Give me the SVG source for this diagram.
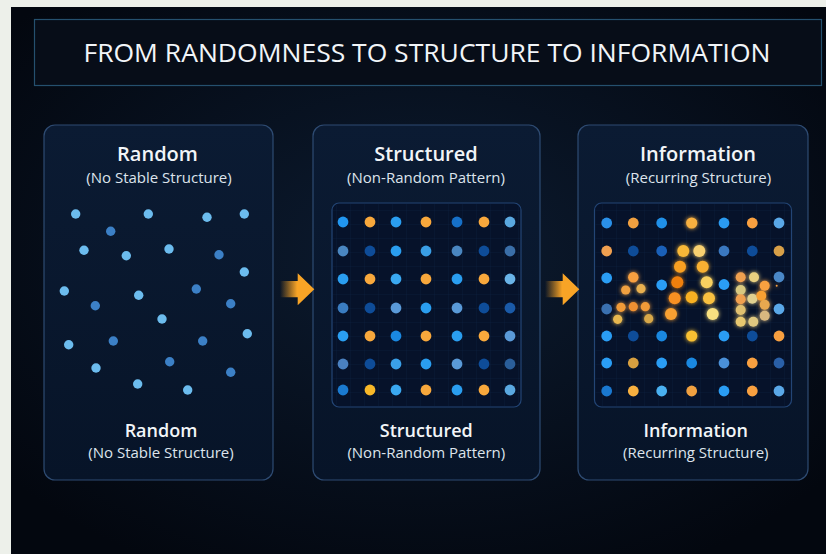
<svg xmlns="http://www.w3.org/2000/svg" width="826" height="554" viewBox="0 0 826 554">
<style>
.t{font-family:"Open Sans","Liberation Sans",sans-serif;fill:#f2f5f8;text-anchor:middle}
.h1{font-size:20px;font-weight:600}
.h2{font-size:18px;font-weight:600}
.sub{font-size:15px;font-weight:400;fill:#dde4ec}
.panel{fill:url(#pg);stroke:#2e4b72;stroke-width:1.2}
.inner{fill:#06122a;stroke:#234575;stroke-width:1.2}
.arrow{fill:url(#ag)}
</style>
<defs>
<radialGradient id="bg" cx="0.5" cy="0.45" r="0.65">
<stop offset="0" stop-color="#0c1b30"/>
<stop offset="1" stop-color="#03070f"/>
</radialGradient>
<linearGradient id="pg" x1="0" y1="0" x2="0" y2="1">
<stop offset="0" stop-color="#0b1b33"/>
<stop offset="1" stop-color="#071428"/>
</linearGradient>
<linearGradient id="ag" x1="0" y1="0" x2="1" y2="0">
<stop offset="0" stop-color="#f8a020" stop-opacity="0"/>
<stop offset="0.5" stop-color="#f8a426" stop-opacity="1"/>
<stop offset="1" stop-color="#f8a426"/>
</linearGradient>
<pattern id="grid" width="14" height="14" patternUnits="userSpaceOnUse">
<path d="M14 0H0V14" fill="none" stroke="#12315a" stroke-width="0.8" opacity="0.35"/>
</pattern>
<filter id="glow" x="-100%" y="-100%" width="300%" height="300%">
<feGaussianBlur stdDeviation="2.2" result="b"/>
<feMerge><feMergeNode in="b"/><feMergeNode in="SourceGraphic"/></feMerge>
</filter>
</defs>
<rect width="826" height="554" fill="#edf0ea"/>
<rect x="11" y="7" width="815" height="547" fill="url(#bg)"/>

<g id="title">
<rect x="34.5" y="19.5" width="787" height="66" fill="#070d18" stroke="#25506e" stroke-width="1.2"/>
<text class="t" x="427" y="61.5" font-size="26" textLength="687" lengthAdjust="spacingAndGlyphs">FROM RANDOMNESS TO STRUCTURE TO INFORMATION</text>
</g>

<g id="panel-random">
<rect class="panel" x="44" y="125" width="229" height="355" rx="11"/>
<text class="t h1" x="157.5" y="161">Random</text>
<text class="t sub" x="159" y="183">(No Stable Structure)</text>
<g fill="#6cbcee">
<circle cx="75.7" cy="214" r="4.7"/><circle cx="148.3" cy="214" r="4.7"/><circle cx="207" cy="217.3" r="4.7"/><circle cx="244.3" cy="214" r="4.7"/>
<circle cx="84" cy="250.3" r="4.7"/><circle cx="126.3" cy="255.7" r="4.7"/><circle cx="169" cy="249" r="4.7"/><circle cx="244.3" cy="272" r="4.7"/>
<circle cx="64.3" cy="291" r="4.7"/><circle cx="138.7" cy="295.3" r="4.7"/><circle cx="162" cy="319" r="4.7"/><circle cx="247.3" cy="333.7" r="4.7"/>
<circle cx="68.7" cy="344.7" r="4.7"/><circle cx="96" cy="368" r="4.7"/><circle cx="137.7" cy="384" r="4.7"/><circle cx="187.7" cy="390" r="4.7"/>
</g>
<g fill="#3c80c6">
<circle cx="110.7" cy="231.3" r="4.7"/><circle cx="219" cy="254.7" r="4.7"/><circle cx="196.3" cy="289" r="4.7"/><circle cx="95.3" cy="305.7" r="4.7"/>
<circle cx="230.7" cy="303.7" r="4.7"/><circle cx="113.3" cy="341" r="4.7"/><circle cx="202.7" cy="341" r="4.7"/><circle cx="169.7" cy="361.7" r="4.7"/>
<circle cx="230.7" cy="372.3" r="4.7"/>
</g>
<text class="t h2" x="161" y="437">Random</text>
<text class="t sub" x="161" y="458">(No Stable Structure)</text>
</g>

<g id="panel-structured">
<rect class="panel" x="313" y="125" width="227" height="355" rx="11"/>
<text class="t h1" x="426" y="161">Structured</text>
<text class="t sub" x="426" y="183">(Non-Random Pattern)</text>
<rect class="inner" x="332" y="203" width="189" height="204" rx="7"/>
<rect x="333" y="204" width="187" height="202" rx="6" fill="url(#grid)"/>
<g>
<circle cx="343" cy="222" r="5.4" fill="#2196f0"/><circle cx="370" cy="222" r="5.4" fill="#f8a83c"/><circle cx="396" cy="222" r="5.4" fill="#2a9ef0"/><circle cx="426" cy="222" r="5.4" fill="#f8a83c"/><circle cx="457" cy="222" r="5.4" fill="#1670c8"/><circle cx="484" cy="222" r="5.4" fill="#f8a83c"/><circle cx="510" cy="222" r="5.4" fill="#5aa8e0"/>
<circle cx="343" cy="251" r="5.4" fill="#4a86c0"/><circle cx="370" cy="251" r="5.4" fill="#0e4c98"/><circle cx="396" cy="251" r="5.4" fill="#2a9ef0"/><circle cx="426" cy="251" r="5.4" fill="#3a9fe6"/><circle cx="457" cy="251" r="5.4" fill="#4a86c0"/><circle cx="484" cy="251" r="5.4" fill="#0e4c98"/><circle cx="510" cy="251" r="5.4" fill="#3a6ea8"/>
<circle cx="343" cy="279" r="5.4" fill="#2a9ef0"/><circle cx="370" cy="279" r="5.4" fill="#f8a83c"/><circle cx="396" cy="279" r="5.4" fill="#3aa8f0"/><circle cx="426" cy="279" r="5.4" fill="#f8a83c"/><circle cx="457" cy="279" r="5.4" fill="#2a9ef0"/><circle cx="484" cy="279" r="5.4" fill="#f8a83c"/><circle cx="510" cy="279" r="5.4" fill="#6ab4e8"/>
<circle cx="343" cy="308" r="5.4" fill="#3a7cc0"/><circle cx="370" cy="308" r="5.4" fill="#0e4c98"/><circle cx="396" cy="308" r="5.4" fill="#5a9ad8"/><circle cx="426" cy="308" r="5.4" fill="#2a9ef0"/><circle cx="457" cy="308" r="5.4" fill="#5a9ad8"/><circle cx="484" cy="308" r="5.4" fill="#0e4c98"/><circle cx="510" cy="308" r="5.4" fill="#1a5aa8"/>
<circle cx="343" cy="336" r="5.4" fill="#2a9ef0"/><circle cx="370" cy="336" r="5.4" fill="#f8a83c"/><circle cx="396" cy="336" r="5.4" fill="#1a88e0"/><circle cx="426" cy="336" r="5.4" fill="#f8a83c"/><circle cx="457" cy="336" r="5.4" fill="#2a9ef0"/><circle cx="484" cy="336" r="5.4" fill="#f8a83c"/><circle cx="510" cy="336" r="5.4" fill="#5a9ad8"/>
<circle cx="343" cy="364" r="5.4" fill="#4a80c0"/><circle cx="370" cy="364" r="5.4" fill="#0e4c98"/><circle cx="396" cy="364" r="5.4" fill="#3aa0e8"/><circle cx="426" cy="364" r="5.4" fill="#2a9ef0"/><circle cx="457" cy="364" r="5.4" fill="#5a9ad8"/><circle cx="484" cy="364" r="5.4" fill="#0e4c98"/><circle cx="510" cy="364" r="5.4" fill="#2a5e9a"/>
<circle cx="343" cy="390" r="5.4" fill="#1a7ad0"/><circle cx="370" cy="390" r="5.4" fill="#f8b828"/><circle cx="396" cy="390" r="5.4" fill="#3aa8f0"/><circle cx="426" cy="390" r="5.4" fill="#f8a83c"/><circle cx="457" cy="390" r="5.4" fill="#2a9ef0"/><circle cx="484" cy="390" r="5.4" fill="#f8a83c"/><circle cx="510" cy="390" r="5.4" fill="#5aa8e0"/>
</g>
<text class="t h2" x="426.3" y="437">Structured</text>
<text class="t sub" x="426.3" y="458">(Non-Random Pattern)</text>
</g>

<g id="panel-information">
<rect class="panel" x="578" y="125" width="230" height="355" rx="11"/>
<text class="t h1" x="698" y="161">Information</text>
<text class="t sub" x="698.5" y="183">(Recurring Structure)</text>
<rect class="inner" x="594.5" y="203" width="197" height="204" rx="7"/>
<rect x="595.5" y="204" width="195" height="202" rx="6" fill="url(#grid)"/>
<g>
<circle cx="606.7" cy="223" r="5.4" fill="#2a90e8"/><circle cx="633.3" cy="223" r="5.4" fill="#f0a040"/><circle cx="661.7" cy="223" r="5.4" fill="#2090e8"/><circle cx="691.7" cy="223" r="5.6" fill="#f8b040" filter="url(#glow)"/><circle cx="724" cy="223" r="5.4" fill="#2a9af0"/><circle cx="752.3" cy="223" r="5.4" fill="#f8a040"/><circle cx="779" cy="223" r="5.4" fill="#5aa8e8"/>
<circle cx="606.7" cy="251" r="5.4" fill="#f0a050"/><circle cx="633.3" cy="251" r="5.4" fill="#0e4c98"/><circle cx="661.7" cy="251" r="5.4" fill="#1a60b8"/><circle cx="724" cy="251" r="5.4" fill="#3a78c0"/><circle cx="752.3" cy="251" r="5.4" fill="#0e4c98"/><circle cx="779" cy="251" r="5.4" fill="#d8a048"/>
<circle cx="606.7" cy="278" r="5.4" fill="#2a9df4"/><circle cx="661.7" cy="285" r="5.4" fill="#2a9df4"/><circle cx="724" cy="284.5" r="5.4" fill="#2a9df4"/><circle cx="779" cy="277" r="5.4" fill="#4a88c8"/>
<circle cx="606.7" cy="309" r="5.4" fill="#3a70b0"/><circle cx="779" cy="309" r="5.4" fill="#5aa8e8"/>
<circle cx="606.7" cy="336" r="5.4" fill="#2a9df4"/><circle cx="633.3" cy="336" r="5.4" fill="#0e4c98"/><circle cx="661.7" cy="336" r="5.4" fill="#1a88e0"/><circle cx="691.7" cy="336" r="5.6" fill="#f8c030" filter="url(#glow)"/><circle cx="724" cy="336" r="5.4" fill="#2a9df4"/><circle cx="752.3" cy="336" r="5.4" fill="#0e4c98"/><circle cx="779" cy="336" r="5.4" fill="#f8a040"/>
<circle cx="606.7" cy="363" r="5.4" fill="#2a9df4"/><circle cx="633.3" cy="363" r="5.4" fill="#d8a040"/><circle cx="661.7" cy="363" r="5.4" fill="#2a9df4"/><circle cx="691.7" cy="363" r="5.4" fill="#1a88e0"/><circle cx="724" cy="363" r="5.4" fill="#4a90d8"/><circle cx="752.3" cy="363" r="5.4" fill="#f8a040"/><circle cx="779" cy="363" r="5.4" fill="#2a60a8"/>
<circle cx="606.7" cy="391" r="5.4" fill="#1a78d0"/><circle cx="633.3" cy="391" r="5.4" fill="#f8b040"/><circle cx="661.7" cy="391" r="5.4" fill="#4ab0f0"/><circle cx="691.7" cy="391" r="5.4" fill="#f0a040"/><circle cx="724" cy="391" r="5.4" fill="#2a9df4"/><circle cx="752.3" cy="391" r="5.4" fill="#f8a040"/><circle cx="779" cy="391" r="5.4" fill="#5aa8e8"/>
</g>
<g filter="url(#glow)">
<circle cx="633.3" cy="277.3" r="5.2" fill="#f8a040"/><circle cx="625.7" cy="290" r="4.6" fill="#f0a040"/><circle cx="641" cy="288.7" r="4.6" fill="#e8b050"/>
<circle cx="621" cy="307.3" r="4.6" fill="#f09a38"/><circle cx="633.3" cy="306.7" r="4.6" fill="#f09030"/><circle cx="645.3" cy="306.7" r="4.6" fill="#f09a38"/>
<circle cx="617.7" cy="319.3" r="4.6" fill="#e8b850"/><circle cx="648.7" cy="318.7" r="4.6" fill="#d8a848"/>
<circle cx="683.3" cy="251" r="6" fill="#f8b838"/><circle cx="699.3" cy="251" r="6" fill="#f8d070"/>
<circle cx="680" cy="266.7" r="6" fill="#f8a020"/><circle cx="702.7" cy="266.7" r="6" fill="#f8b030"/>
<circle cx="677.3" cy="282.3" r="6" fill="#f08010"/><circle cx="706.7" cy="282.3" r="6" fill="#f8d060"/>
<circle cx="674.7" cy="298.3" r="6" fill="#f89020"/><circle cx="691.7" cy="297.3" r="6" fill="#f8b020"/><circle cx="709" cy="298.3" r="6" fill="#f8c040"/>
<circle cx="671" cy="314" r="6" fill="#f8a030"/><circle cx="712.7" cy="314" r="6" fill="#f8e080"/>
<circle cx="740.7" cy="277.3" r="5" fill="#f0a050"/><circle cx="754" cy="277.3" r="5" fill="#e8d080"/><circle cx="764.7" cy="285.7" r="5" fill="#f8a040"/>
<circle cx="740.7" cy="290" r="5" fill="#d8c880"/><circle cx="740.7" cy="299.3" r="5" fill="#f0a050"/><circle cx="752.3" cy="298.7" r="5" fill="#e0d090"/><circle cx="761.3" cy="295.7" r="5" fill="#f8a030"/>
<circle cx="764.7" cy="304.7" r="5" fill="#e8a850"/><circle cx="740.7" cy="310" r="5" fill="#e0c070"/><circle cx="764.7" cy="315.7" r="5" fill="#d8b880"/>
<circle cx="740.7" cy="321.7" r="5" fill="#e8c870"/><circle cx="753.3" cy="321.7" r="5" fill="#e0c880"/>
<circle cx="776.7" cy="285.7" r="1" fill="#f8a040"/>
</g>
<text class="t h2" x="695.8" y="437">Information</text>
<text class="t sub" x="695.8" y="458">(Recurring Structure)</text>
</g>

<g id="connectors">
<path class="arrow" d="M280 281H297.7V273.3L314.3 289.3L297.7 305.3V297.3H280Z"/>
<path class="arrow" d="M545 281H562.7V273.3L579.3 289.3L562.7 305.3V297.3H545Z"/>
</g>
</svg>
